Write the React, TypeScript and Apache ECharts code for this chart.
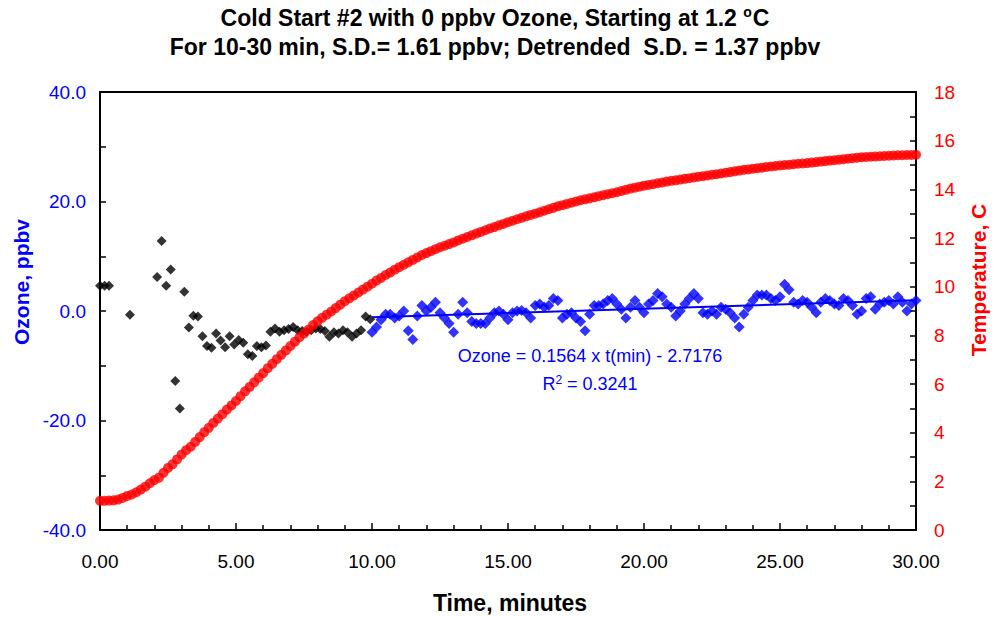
import React, { useEffect, useRef } from "react";
import * as echarts from "echarts";

// ---- data ----
const SAMPLE_STEP = 1 / 6; // minutes between samples (10 s)

const earlyTimes = [0, 0.17, 0.33, 1.1];
const earlyOzone = [4.6, 4.6, 4.6, -0.7];

const blackStart = 2.1;
const blackOzone = [
  6.2, 12.8, 4.6, 7.6, -12.8, -17.8, 3.5, -3.0, -0.85, -1.0,
  -4.6, -6.4, -6.7, -4.1, -5.4, -6.6, -4.6, -6.1, -5.3, -5.8,
  -7.9, -8.2, -6.4, -6.6, -6.3, -3.8, -3.2, -3.8, -3.5, -3.3,
  -2.9, -3.5, -3.65, -3.8, -3.5, -3.2, -3.3, -3.65, -4.7, -3.9,
  -4.1, -3.5, -3.9, -4.7, -4.1, -3.5, -1.0, -1.5,
];

const blueStart = 10.0;
const blueOzone = [
  -3.9, -2.9, -1.6, -0.6, -0.6, -1.3, -0.9, 0.0, -3.6, -5.2,
  -0.9, 1.0, 0.0, 0.7, 1.6, -0.3, -1.3, -2.3, -3.9, -0.6,
  1.6, -0.3, -1.9, -2.3, -2.3, -2.3, -1.3, -0.3, 0.0, -0.6,
  -1.6, -0.3, 0.0, 0.1, -0.3, -1.3, 1.0, 1.3, 0.7, 1.0,
  2.3, 1.9, -1.3, -0.6, -0.3, -1.3, -1.9, -3.6, -0.6, 1.0,
  1.0, 1.3, 1.9, 2.3, 1.3, 0.3, -1.3, 0.7, 1.9, 0.7,
  -0.3, 1.3, 1.9, 3.2, 2.6, 1.3, 0.7, -0.9, 0.0, 1.3,
  2.3, 3.2, 2.3, -0.3, -0.6, 0.0, -0.6, 0.7, 0.3, -0.3,
  -1.3, -2.9, -0.6, 0.7, 1.9, 2.9, 2.9, 2.9, 2.3, 1.9,
  2.6, 4.9, 3.9, 1.6, 1.3, 1.9, 1.6, 0.7, -0.3, 1.6,
  2.3, 1.9, 1.3, 1.0, 2.3, 1.9, 1.0, -0.6, 0.0, 2.3,
  2.6, 0.3, 1.3, 1.6, 1.9, 1.3, 2.6, 1.6, 0.0, 1.3,
  1.9,
];

const tempStart = 0;
const temperature = [
  1.2, 1.2, 1.21, 1.22, 1.25, 1.32,
  1.4, 1.46, 1.55, 1.66, 1.78, 1.92,
  2.05, 2.15, 2.35, 2.55, 2.7, 2.9,
  3.1, 3.28, 3.42, 3.62, 3.82, 4.02,
  4.2, 4.4, 4.58, 4.76, 4.95, 5.12,
  5.3, 5.5, 5.7, 5.88, 6.07, 6.26,
  6.45, 6.65, 6.83, 7.02, 7.2, 7.38,
  7.56, 7.74, 7.92, 8.08, 8.24, 8.42,
  8.58, 8.72, 8.85, 8.98, 9.12, 9.26,
  9.4, 9.52, 9.64, 9.76, 9.88, 10.0,
  10.12, 10.25, 10.36, 10.48, 10.58, 10.7,
  10.8, 10.9, 11.0, 11.1, 11.2, 11.3,
  11.38, 11.46, 11.54, 11.62, 11.68, 11.75,
  11.82, 11.9, 11.97, 12.04, 12.11, 12.18,
  12.25, 12.32, 12.39, 12.45, 12.52, 12.58,
  12.65, 12.71, 12.77, 12.83, 12.89, 12.95,
  13.0, 13.06, 13.12, 13.18, 13.24, 13.3,
  13.35, 13.4, 13.45, 13.5, 13.55, 13.59,
  13.63, 13.67, 13.72, 13.76, 13.8, 13.84,
  13.88, 13.93, 13.98, 14.03, 14.07, 14.11,
  14.15, 14.18, 14.21, 14.25, 14.28, 14.32,
  14.35, 14.37, 14.4, 14.43, 14.46, 14.49,
  14.52, 14.54, 14.57, 14.6, 14.62, 14.65,
  14.68, 14.71, 14.74, 14.77, 14.8, 14.82,
  14.85, 14.87, 14.89, 14.92, 14.94, 14.96,
  14.98, 15.0, 15.01, 15.03, 15.05, 15.06,
  15.08, 15.1, 15.12, 15.14, 15.16, 15.18,
  15.2, 15.22, 15.24, 15.26, 15.28, 15.3,
  15.32, 15.33, 15.34, 15.35, 15.36, 15.37,
  15.38, 15.39, 15.4, 15.4, 15.41, 15.41,
  15.42,
];

const trendTimes = [10, 30];
const trendOzone = [-1.1536, 1.9744];

const titleLine1 = "Cold Start #2 with 0 ppbv Ozone, Starting at 1.2 {sup|o}C";
const titleLine2 = "For 10-30 min, S.D.= 1.61 ppbv; Detrended  S.D. = 1.37 ppbv";
const fitText = "Ozone = 0.1564 x t(min) - 2.7176";
const r2Text = "R{sup|2} = 0.3241";

const FONT = "'Liberation Sans', Arial, Helvetica, sans-serif";
const BLUE = "#0000ff";
const RED = "#ff0000";

const pairs = (start: number, vals: number[]) =>
  vals.map((v, i) => [+(start + i * SAMPLE_STEP).toFixed(4), v]);

export default function App() {
  const ref = useRef<HTMLDivElement>(null);
  useEffect(() => {
    document.body.style.margin = "0";
    const chart = echarts.init(ref.current!, null, { renderer: "svg" });
    const black = [
      ...earlyTimes.map((t, i) => [t, earlyOzone[i]]),
      ...pairs(blackStart, blackOzone),
    ];
    const blue = pairs(blueStart, blueOzone);
    const temp = pairs(tempStart, temperature);
    const trend = trendTimes.map((t, i) => [t, trendOzone[i]]);

    const tick = { color: "#000", width: 1.5 };

    chart.setOption({
      animation: false,
      textStyle: { fontFamily: FONT },
      grid: {
        left: 100,
        top: 92,
        width: 816,
        height: 438,
        show: true,
        borderColor: "#000",
        borderWidth: 2,
        backgroundColor: "transparent",
      },
      xAxis: {
        type: "value",
        min: 0,
        max: 30,
        interval: 5,
        axisLine: { onZero: false, lineStyle: { color: "#000", width: 2 } },
        axisTick: { inside: true, length: 7, lineStyle: tick },
        minorTick: { show: true, splitNumber: 5, length: 5, lineStyle: tick },
        splitLine: { show: false },
        axisLabel: {
          color: "#000",
          fontSize: 19,
          fontFamily: FONT,
          margin: 22,
          formatter: (v: number) => v.toFixed(2),
        },
      },
      yAxis: [
        {
          type: "value",
          min: -40,
          max: 40,
          interval: 20,
          position: "left",
          axisLine: { show: true, onZero: false, lineStyle: { color: "#000", width: 2 } },
          axisTick: { show: true, inside: true, length: 6, lineStyle: tick },
          minorTick: { show: true, splitNumber: 2, length: 6, lineStyle: tick },
          splitLine: { show: false },
          axisLabel: {
            color: BLUE,
            fontSize: 19,
            fontFamily: FONT,
            margin: 14,
            formatter: (v: number) => v.toFixed(1),
          },
        },
        {
          type: "value",
          min: 0,
          max: 18,
          interval: 2,
          position: "right",
          axisLine: { show: true, onZero: false, lineStyle: { color: "#000", width: 2 } },
          axisTick: { show: true, inside: true, length: 6, lineStyle: tick },
          minorTick: { show: true, splitNumber: 2, length: 6, lineStyle: tick },
          splitLine: { show: false },
          axisLabel: { color: RED, fontSize: 19, fontFamily: FONT, margin: 18 },
        },
      ],
      series: [
        {
          type: "scatter",
          data: black,
          symbol: "diamond",
          symbolSize: 10,
          itemStyle: { color: "#000" },
          z: 2,
        },
        {
          type: "scatter",
          data: blue,
          symbol: "diamond",
          symbolSize: 11,
          itemStyle: { color: BLUE },
          z: 3,
        },
        {
          type: "line",
          data: trend,
          showSymbol: false,
          symbol: "none",
          lineStyle: { color: BLUE, width: 2 },
          z: 4,
        },
        {
          type: "scatter",
          yAxisIndex: 1,
          data: temp,
          symbol: "circle",
          symbolSize: 10,
          itemStyle: { color: RED },
          z: 5,
        },
      ],
      graphic: [
        {
          type: "text",
          x: 495,
          y: 18,
          style: {
            text: titleLine1,
            fill: "#000",
            font: `bold 23px ${FONT}`,
            align: "center",
            verticalAlign: "middle",
            rich: {
              sup: { fontSize: 14, fontWeight: "bold", fontFamily: FONT, fill: "#000", padding: [0, 1, 12, 0] },
            },
          },
        },
        {
          type: "text",
          x: 495,
          y: 47,
          style: {
            text: titleLine2,
            fill: "#000",
            font: `bold 23px ${FONT}`,
            align: "center",
            verticalAlign: "middle",
          },
        },
        {
          type: "text",
          x: 21,
          y: 282,
          rotation: Math.PI / 2,
          style: {
            text: "Ozone, ppbv",
            fill: BLUE,
            font: `bold 21px ${FONT}`,
            align: "center",
            verticalAlign: "middle",
          },
        },
        {
          type: "text",
          x: 978,
          y: 280,
          rotation: Math.PI / 2,
          style: {
            text: "Temperature, C",
            fill: RED,
            font: `bold 21px ${FONT}`,
            align: "center",
            verticalAlign: "middle",
          },
        },
        {
          type: "text",
          x: 510,
          y: 603,
          style: {
            text: "Time, minutes",
            fill: "#000",
            font: `bold 23px ${FONT}`,
            align: "center",
            verticalAlign: "middle",
          },
        },
        {
          type: "text",
          x: 590,
          y: 356,
          style: {
            text: fitText,
            fill: BLUE,
            font: `18px ${FONT}`,
            align: "center",
            verticalAlign: "middle",
          },
        },
        {
          type: "text",
          x: 590,
          y: 384,
          style: {
            text: r2Text,
            fill: BLUE,
            font: `18px ${FONT}`,
            align: "center",
            verticalAlign: "middle",
            rich: {
              sup: { fontSize: 12, fontFamily: FONT, fill: BLUE, padding: [0, 0, 9, 0] },
            },
          },
        },
      ],
    });
    return () => chart.dispose();
  }, []);
  return (
    <div
      ref={ref}
      style={{ position: "fixed", left: 0, top: 0, width: 995, height: 617, background: "#fff" }}
    />
  );
}
